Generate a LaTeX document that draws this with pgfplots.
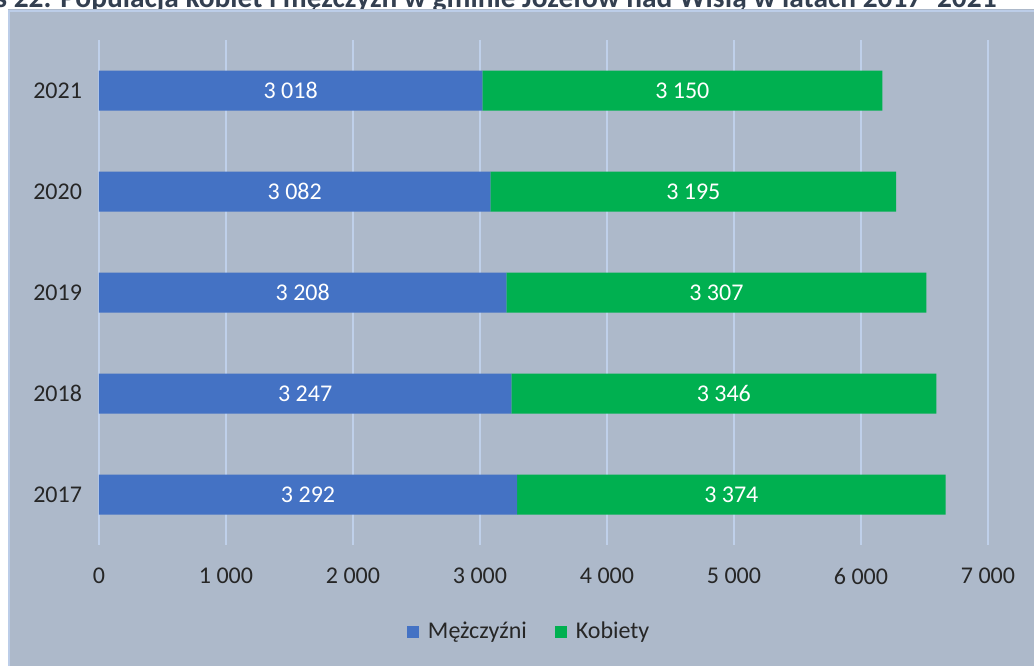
\documentclass[border=0pt]{standalone}
\usepackage{pgfplots}
\pgfplotsset{compat=1.18}
\usepackage{pgfplotstable}
\usepackage{fontspec}
\setmainfont{Carlito}

\definecolor{panel}{HTML}{ADB9CA}
\definecolor{edge}{HTML}{BCCDE8}
\definecolor{gridc}{HTML}{BFD0EA}
\definecolor{men}{HTML}{4472C4}
\definecolor{women}{HTML}{00B050}
\definecolor{titlec}{HTML}{333F50}

% rok, mezczyzni, kobiety
\pgfplotstableread[col sep=comma]{
y,m,k,ml,kl
0,3292,3374,3 292,3 374
1,3247,3346,3 247,3 346
2,3208,3307,3 208,3 307
3,3082,3195,3 082,3 195
4,3018,3150,3 018,3 150
}\ludnosc

\begin{document}
\begin{tikzpicture}[font=\fontsize{12bp}{14bp}\selectfont]
  \begin{scope}[x=0.5bp, y=0.5bp]
  % caption, partly hidden by the chart panel
  \node[anchor=base east, font=\fontsize{14.7bp}{16bp}\selectfont\bfseries, text=titlec, inner sep=0pt]
    at (997,659) {Wykres 22. Populacja kobiet i mężczyzn w gminie Józefów nad Wisłą w latach 2017–2021};
  % panel behind the chart
  \fill[panel] (8,-6) rectangle (1040,657);
  \draw[edge, line width=1.2bp] (9,-6) -- (9,655) -- (1040,655);
  \coordinate (ax) at (99,121);
  \end{scope}

  \begin{axis}[
    at={(ax)}, anchor=south west,
    scale only axis,
    width=444.5bp, height=252.5bp,
    xbar stacked,
    bar width=20bp,
    xmin=0, xmax=7000,
    ymin=-0.5, ymax=4.5,
    axis line style={draw=none},
    major tick length=0pt,
    xtick={0,1000,...,7000},
    xticklabels={0,1 000,2 000,3 000,4 000,5 000,6 000,7 000},
    ytick={0,1,2,3,4},
    yticklabels={2017,2018,2019,2020,2021},
    xmajorgrids,
    grid style={gridc, line width=1.2bp},
    xticklabel style={yshift=-8bp, text=black!85},
    yticklabel style={xshift=-5bp, text=black!85},
    legend style={at={(0.485,-0.172)}, anchor=center, draw=none, fill=none,
      legend columns=2, text=black!85,
      /tikz/every odd column/.append style={column sep=2.5bp},
      /tikz/every even column/.append style={column sep=12bp}},
    legend image code/.code={\fill[#1] (0bp,-3bp) rectangle (6bp,3bp);},
    nodes near coords,
    point meta=explicit symbolic,
    % centred anchor puts the label in the middle of its segment
    nodes near coords align={anchor=center},
    every node near coord/.append style={text=white},
  ]
    \addplot[fill=men, draw=none] table[x=m, y=y, meta=ml] {\ludnosc};
    \addlegendentry{Mężczyźni}
    \addplot[fill=women, draw=none] table[x=k, y=y, meta=kl] {\ludnosc};
    \addlegendentry{Kobiety}
  \end{axis}
  \pgfresetboundingbox
  \useasboundingbox (0,0) rectangle (517bp,333bp);
\end{tikzpicture}
\end{document}
